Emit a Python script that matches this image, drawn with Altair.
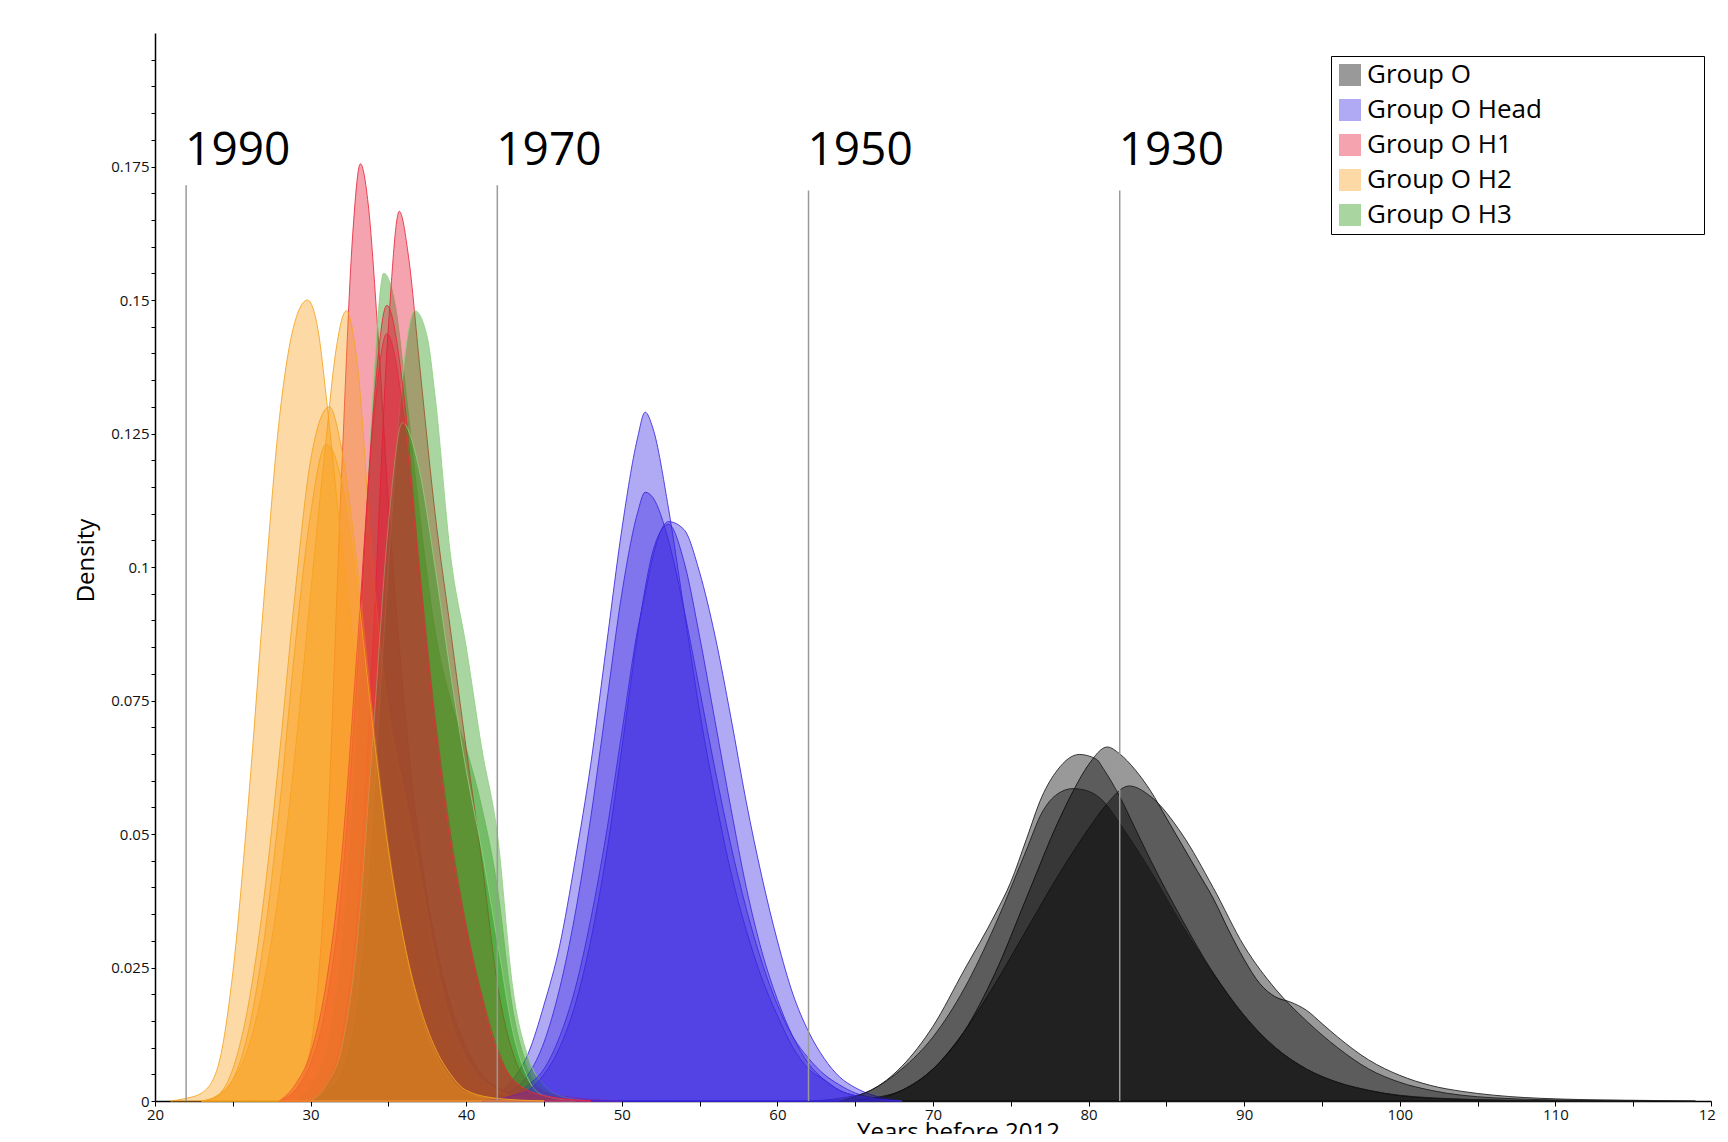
import altair as alt
import pandas as pd

# ---------------- data ----------------
GROUPS = ["Group O", "Group O Head", "Group O H1", "Group O H2", "Group O H3"]
FILL_COLORS = ["#000000", "#3a28e0", "#e61937", "#faa01e", "#269612"]
STROKE_COLORS = ["#1a1a1a", "#3a28e0", "#e8283c", "#f5a31e", "#8fd080"]

# Group O (grey) – four density curves
GO1_X = [64, 66, 68, 70, 72, 74, 76, 78, 79, 80, 81.2, 82, 83, 84, 85, 86, 87, 88, 89, 90,
         91, 92, 93, 94, 95, 96, 98, 100, 102, 104, 106, 110, 116, 119]
GO1_Y = [0, 0.0005, 0.002, 0.006, 0.013, 0.024, 0.038, 0.052, 0.058, 0.063, 0.0663, 0.065, 0.062,
         0.058, 0.053, 0.048, 0.043, 0.038, 0.032, 0.0265, 0.022, 0.0195, 0.0185, 0.017, 0.0145,
         0.012, 0.0077, 0.0048, 0.0029, 0.0018, 0.0011, 0.0004, 0.0001, 0]
GO2_X = [62, 64, 66, 68, 70, 72, 74, 75, 76, 77, 78, 79.4, 80.5, 81, 82, 83, 84, 86, 88, 90,
         92, 94, 96, 98, 100, 104, 110]
GO2_Y = [0, 0.0005, 0.002, 0.0065, 0.014, 0.0245, 0.035, 0.041, 0.049, 0.057, 0.062, 0.0649,
         0.064, 0.062, 0.057, 0.051, 0.045, 0.034, 0.024, 0.016, 0.010, 0.006, 0.0035, 0.002,
         0.001, 0.0003, 0]
GO3_X = [66, 68, 70, 72, 74, 76, 78, 80, 81, 82.6, 84, 86, 88, 90, 92, 94, 96, 98, 100, 102,
         106, 112, 116]
GO3_Y = [0, 0.002, 0.006, 0.013, 0.022, 0.032, 0.042, 0.051, 0.055, 0.059, 0.057, 0.050, 0.040,
         0.029, 0.021, 0.015, 0.010, 0.006, 0.0035, 0.002, 0.0006, 0.0001, 0]
GO4_X = [64, 66, 68, 70, 72, 74, 76, 77, 78, 79, 80, 81, 82, 84, 86, 88, 90, 92, 94, 96, 98,
         102, 108, 112]
GO4_Y = [0, 0.002, 0.006, 0.012, 0.021, 0.033, 0.047, 0.054, 0.0575, 0.0585, 0.058, 0.056, 0.052,
         0.043, 0.033, 0.024, 0.016, 0.010, 0.006, 0.0035, 0.002, 0.0006, 0.0001, 0]

# Group O Head (blue) – four density curves on a common grid
HEAD_X = [41, 42, 43, 44, 45, 46, 47, 48, 49, 50, 51, 51.5, 52, 53, 54, 55, 56, 57, 58, 59,
          60, 61, 62, 63, 64, 65, 66, 68]
HB1_Y = [0, 0.001, 0.004, 0.009, 0.018, 0.029, 0.045, 0.063, 0.085, 0.107, 0.124, 0.129, 0.126,
         0.111, 0.092, 0.073, 0.057, 0.043, 0.032, 0.023, 0.016, 0.010, 0.006, 0.004, 0.002,
         0.001, 0.0005, 0]
HB2_Y = [0, 0.001, 0.002, 0.005, 0.011, 0.021, 0.035, 0.053, 0.074, 0.095, 0.110, 0.114, 0.113,
         0.105, 0.092, 0.077, 0.062, 0.048, 0.036, 0.026, 0.018, 0.012, 0.008, 0.005, 0.003,
         0.0015, 0.0007, 0]
HB3_Y = [0, 0.0005, 0.001, 0.003, 0.006, 0.012, 0.021, 0.034, 0.050, 0.069, 0.088, 0.095, 0.102,
         0.1085, 0.107, 0.099, 0.087, 0.072, 0.056, 0.042, 0.030, 0.020, 0.013, 0.008, 0.0045,
         0.0025, 0.0012, 0]
HB4_Y = [0, 0.0003, 0.001, 0.002, 0.005, 0.010, 0.018, 0.030, 0.046, 0.066, 0.087, 0.096, 0.103,
         0.108, 0.101, 0.087, 0.071, 0.055, 0.040, 0.028, 0.019, 0.012, 0.007, 0.004, 0.002,
         0.001, 0.0005, 0]

# Group O H1 (red)
R1_X = [28, 29, 30, 31, 32, 32.7, 33.2, 33.7, 34.3, 35, 36, 37, 38, 39, 40, 41, 42, 44, 47, 50]
R1_Y = [0, 0.002, 0.010, 0.045, 0.118, 0.162, 0.1755, 0.168, 0.145, 0.112, 0.075, 0.048, 0.030,
        0.018, 0.010, 0.005, 0.0025, 0.0008, 0.0002, 0]
R2_X = [30, 31, 32, 33, 34, 35, 35.7, 36.3, 37, 38, 39, 40, 41, 42, 43, 44, 46, 50]
R2_Y = [0, 0.003, 0.012, 0.035, 0.085, 0.145, 0.1666, 0.158, 0.138, 0.110, 0.088, 0.066, 0.045,
        0.022, 0.009, 0.0035, 0.001, 0]
R3_X = [28, 29, 30, 31, 32, 33, 34, 34.9, 36, 37, 38, 39, 40, 41, 42, 43, 45, 48]
R3_Y = [0, 0.002, 0.007, 0.018, 0.040, 0.080, 0.128, 0.149, 0.132, 0.100, 0.072, 0.050, 0.033,
        0.020, 0.010, 0.004, 0.001, 0]
R4_X = [28, 29, 30, 31, 32, 33, 34, 34.9, 36, 37, 38, 39, 40, 41, 42, 43, 45, 48]
R4_Y = [0, 0.003, 0.009, 0.022, 0.046, 0.085, 0.126, 0.1437, 0.128, 0.098, 0.070, 0.048, 0.032,
        0.019, 0.009, 0.004, 0.001, 0]

# Group O H2 (orange)
O1_X = [21, 22, 23, 24, 25, 26, 27, 28, 29, 29.8, 30.5, 31, 32, 33, 34, 35, 36, 37, 38, 39, 40,
        41, 43, 46]
O1_Y = [0, 0.0005, 0.0015, 0.006, 0.024, 0.056, 0.094, 0.128, 0.146, 0.150, 0.144, 0.132, 0.104,
        0.080, 0.062, 0.048, 0.036, 0.026, 0.017, 0.010, 0.005, 0.0025, 0.0008, 0]
O2_X = [23, 24, 25, 26, 27, 28, 29, 30, 31, 31.6, 32.3, 33, 34, 35, 36, 37, 38, 39, 40, 41, 42,
        44, 47]
O2_Y = [0, 0.001, 0.004, 0.010, 0.022, 0.040, 0.065, 0.095, 0.124, 0.140, 0.148, 0.138, 0.100,
        0.073, 0.058, 0.043, 0.027, 0.015, 0.008, 0.004, 0.002, 0.0005, 0]
O3_X = [23, 24, 25, 26, 27, 28, 29, 30, 31.2, 32, 33, 34, 35, 36, 37, 38, 39, 40, 42, 45]
O3_Y = [0, 0.001, 0.006, 0.018, 0.038, 0.065, 0.095, 0.120, 0.130, 0.122, 0.100, 0.072, 0.048,
        0.030, 0.017, 0.009, 0.004, 0.0015, 0.0004, 0]
O4_X = [23, 24, 25, 26, 27, 28, 29, 30, 31, 32, 33, 34, 35, 36, 37, 38, 39, 40, 42, 45]
O4_Y = [0, 0.0008, 0.004, 0.013, 0.030, 0.055, 0.085, 0.110, 0.123, 0.116, 0.096, 0.070, 0.047,
        0.030, 0.018, 0.010, 0.005, 0.002, 0.0005, 0]

# Group O H3 (green)
G1_X = [29, 30, 31, 32, 33, 34, 34.7, 35.5, 36, 37, 38, 39, 40, 41, 42, 43, 44, 45, 47]
G1_Y = [0, 0.003, 0.010, 0.030, 0.072, 0.132, 0.155, 0.148, 0.136, 0.110, 0.088, 0.075, 0.066,
        0.055, 0.040, 0.017, 0.006, 0.002, 0]
G2_X = [30, 31, 32, 33, 34, 35, 36, 36.7, 37.5, 38, 39, 40, 41, 42, 43, 44, 45, 46, 48]
G2_Y = [0, 0.002, 0.006, 0.020, 0.055, 0.100, 0.138, 0.148, 0.143, 0.132, 0.102, 0.085, 0.066,
        0.050, 0.021, 0.008, 0.003, 0.001, 0]
G3_X = [30, 31, 32, 33, 34, 35, 35.9, 37, 38, 39, 40, 41, 42, 43, 44, 45, 47]
G3_Y = [0, 0.003, 0.010, 0.030, 0.068, 0.108, 0.127, 0.118, 0.100, 0.080, 0.062, 0.047, 0.030,
        0.013, 0.004, 0.001, 0]

# reference years
YEAR_X = [22, 42, 62, 82]
YEAR_LABELS = ["1990", "1970", "1950", "1930"]
RULE_TOP = [0.1715, 0.1715, 0.1705, 0.1705]
LABEL_Y = [0.1752, 0.1752, 0.1752, 0.1752]

X_TICKS = [20, 25, 30, 35, 40, 45, 50, 55, 60, 65, 70, 75, 80, 85, 90, 95, 100, 105, 110, 115, 120]
Y_TICKS = [0, 0.005, 0.01, 0.015, 0.02, 0.025, 0.03, 0.035, 0.04, 0.045, 0.05, 0.055, 0.06, 0.065,
           0.07, 0.075, 0.08, 0.085, 0.09, 0.095, 0.1, 0.105, 0.11, 0.115, 0.12, 0.125, 0.13, 0.135,
           0.14, 0.145, 0.15, 0.155, 0.16, 0.165, 0.17, 0.175, 0.18, 0.185, 0.19, 0.195]

# (group, run number, x values, density values)
CURVES = [
    ("Group O", 1, GO1_X, GO1_Y), ("Group O", 2, GO2_X, GO2_Y),
    ("Group O", 3, GO3_X, GO3_Y), ("Group O", 4, GO4_X, GO4_Y),
    ("Group O Head", 1, HEAD_X, HB1_Y), ("Group O Head", 2, HEAD_X, HB2_Y),
    ("Group O Head", 3, HEAD_X, HB3_Y), ("Group O Head", 4, HEAD_X, HB4_Y),
    ("Group O H1", 1, R1_X, R1_Y), ("Group O H1", 2, R2_X, R2_Y),
    ("Group O H1", 3, R3_X, R3_Y), ("Group O H1", 4, R4_X, R4_Y),
    ("Group O H2", 1, O1_X, O1_Y), ("Group O H2", 2, O2_X, O2_Y),
    ("Group O H2", 3, O3_X, O3_Y), ("Group O H2", 4, O4_X, O4_Y),
    ("Group O H3", 1, G1_X, G1_Y), ("Group O H3", 2, G2_X, G2_Y),
    ("Group O H3", 3, G3_X, G3_Y),
]

rows = []
for grp, run, xs, ys in CURVES:
    for xv, yv in zip(xs, ys):
        rows.append({"group": grp, "run": run, "years": xv, "density": yv})
df = pd.DataFrame(rows)

ref_df = pd.DataFrame({"x": YEAR_X, "label": YEAR_LABELS, "top": RULE_TOP,
                       "bottom": [0] * len(YEAR_X), "ly": LABEL_Y})

# ---------------- scales & axes ----------------
x_scale = alt.Scale(domain=[20, 120], nice=False, zero=False)
y_scale = alt.Scale(domain=[0, 0.2], nice=False, zero=True)
fill_scale = alt.Scale(domain=GROUPS, range=FILL_COLORS)
stroke_scale = alt.Scale(domain=GROUPS, range=STROKE_COLORS)

TICK_FONT = "Open Sans"
x_axis = alt.Axis(values=X_TICKS, labelExpr="datum.value % 10 == 0 ? datum.label : ''",
                  title="Years before 2012", titleX=803, titleY=38, titleAlign="center",
                  titleBaseline="alphabetic", titleFont="Open Sans", titleFontSize=24,
                  titleFontWeight="normal", titleColor="black",
                  labelFont=TICK_FONT, labelFontSize=15, labelColor="#111111",
                  labelFlush=False, labelOverlap=False, labelPadding=1,
                  tickSize=5, tickColor="black", domainColor="black", domainWidth=1.5,
                  grid=False)
y_axis = alt.Axis(values=Y_TICKS,
                  labelExpr="abs(datum.value*40 - round(datum.value*40)) < 0.001 ? format(datum.value, '~g') : ''",
                  title="Density", titleX=-69, titleY=527, titleAngle=270, titleAlign="center",
                  titleBaseline="middle", titleFont="Open Sans", titleFontSize=24,
                  titleFontWeight="normal", titleColor="black",
                  labelFont=TICK_FONT, labelFontSize=15, labelColor="#111111",
                  labelFlush=False, labelOverlap=False, labelPadding=2,
                  tickSize=4, tickColor="black", domainColor="black", domainWidth=1.5,
                  grid=False)

PAD = "\u00a0" * 23 + "\u2060"
legend = alt.Legend(title=None, orient="none", legendX=1176, legendY=23,
                    symbolType="square", symbolSize=484, symbolOpacity=0.4,
                    symbolStrokeWidth=0, labelFont="Open Sans", labelFontSize=26,
                    labelColor="black", labelLimit=2000, labelOffset=4,
                    labelExpr="datum.label + '" + PAD + "'",
                    strokeColor="black", fillColor="white", padding=6, rowPadding=9)

X_ENC = alt.X("years:Q", scale=x_scale, axis=x_axis)
Y_ENC = alt.Y("density:Q", scale=y_scale, axis=y_axis, stack=None)

# curves are drawn run by run, each run in legend order (interleaved layering)
layers = []
for run in [1, 2, 3, 4]:
    for g in GROUPS:
        if not ((df["group"] == g) & (df["run"] == run)).any():
            continue
        layers.append(
            alt.Chart(df)
            .transform_filter((alt.datum.group == g) & (alt.datum.run == run))
            .mark_area(interpolate="monotone", fillOpacity=0.4, strokeWidth=1, strokeOpacity=0.85)
            .encode(
                x=X_ENC,
                y=Y_ENC,
                fill=alt.Fill("group:N", scale=fill_scale, legend=legend),
                stroke=alt.Stroke("group:N", scale=stroke_scale, legend=None),
            )
        )

rules = alt.Chart(ref_df).mark_rule(color="#9a9a9a", strokeWidth=1.5).encode(
    x=alt.X("x:Q", scale=x_scale, axis=x_axis),
    y=alt.Y("bottom:Q", scale=y_scale, axis=y_axis),
    y2="top:Q",
)
labels = alt.Chart(ref_df).mark_text(align="left", baseline="alphabetic", font="Open Sans",
                                     fontSize=46, color="black", dx=-1).encode(
    x=alt.X("x:Q", scale=x_scale, axis=x_axis),
    y=alt.Y("ly:Q", scale=y_scale, axis=y_axis),
    text="label:N",
)

chart = alt.layer(*layers, rules, labels).properties(
    width=1556, height=1068,
    padding={"left": 147, "top": 25, "right": 5, "bottom": 33},
    autosize=alt.AutoSizeParams(type="none"),
    background="white",
).configure_view(stroke=None)

chart.save("out.html", embed_options={"renderer": "svg", "actions": False})
